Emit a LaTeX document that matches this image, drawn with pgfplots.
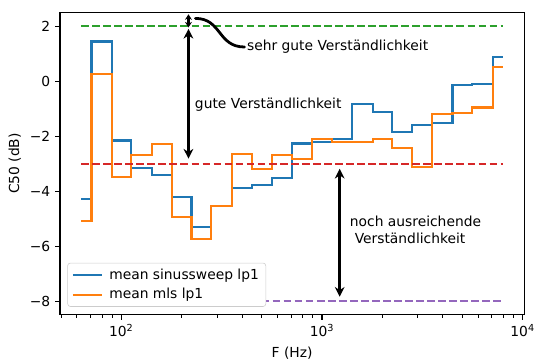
\documentclass[border=0pt]{standalone}
\usepackage{fontspec}
\setmainfont{DejaVu Sans}
\usepackage{pgfplots}
\usepackage{pgfplotstable}
\pgfplotsset{compat=1.18}
\usetikzlibrary{arrows.meta}

\definecolor{tabblue}{HTML}{1F77B4}
\definecolor{taborange}{HTML}{FF7F0E}
\definecolor{tabgreen}{HTML}{2CA02C}
\definecolor{tabred}{HTML}{D62728}
\definecolor{tabpurple}{HTML}{9467BD}

% third-octave band centres and mean C50 per band
\pgfplotstableread{
f      sweep   mls
63     -4.30   -5.08
80      1.44    0.27
100    -2.16   -3.50
125    -3.17   -2.70
160    -3.43   -2.28
200    -4.20   -4.93
250    -5.32   -5.75
315    -4.55   -4.55
400    -3.89   -2.66
500    -3.77   -3.21
630    -3.53   -2.70
800    -2.27   -2.82
1000   -2.22   -2.12
1250   -2.10   -2.20
1600   -0.82   -2.20
2000   -1.11   -2.09
2500   -1.85   -2.42
3150   -1.61   -3.11
4000   -1.51   -1.21
5000   -0.13   -1.17
6300   -0.10   -0.96
8000    0.87    0.50
}\bands

\begin{document}
\fontsize{10}{12}\selectfont
\begin{tikzpicture}
\begin{axis}[
  scale only axis,
  width=334.3bp, height=217.8bp,
  xmode=log,
  xmin=49.45, xmax=10190,
  ymin=-8.5, ymax=2.5,
  axis line style={line width=0.8bp},
  tick align=outside, tick pos=left,
  major tick length=3.5bp, minor tick length=2bp,
  every major tick/.style={line width=0.8bp, black},
  every minor tick/.style={line width=0.6bp, black},
  xtick={100,1000,10000},
  xticklabels={10\textsuperscript{2},10\textsuperscript{3},10\textsuperscript{4}},
  minor xtick={50,60,70,80,90,200,300,400,500,600,700,800,900,2000,3000,4000,5000,6000,7000,8000,9000},
  ytick={-8,-6,-4,-2,0,2},
  yticklabels={−8,−6,−4,−2,0,2},
  tick label style={font=\fontsize{10}{12}\selectfont},
  xlabel={F (Hz)},
  ylabel={C50 (dB)},
  every axis x label/.style={at={(axis description cs:0.5,0)}, anchor=center, yshift=-27.5bp},
  every axis y label/.style={at={(axis description cs:0,0.5)}, anchor=center, rotate=90, yshift=32.5bp},
  legend cell align=left,
  legend style={at={(0,0)}, anchor=south west, xshift=5.3bp, yshift=5.8bp,
    draw=black!20, rounded corners=2bp, fill=white,
    font=\fontsize{10}{12}\selectfont, row sep=1.2bp,
    inner xsep=3bp, inner ysep=2bp,
    /tikz/every odd column/.append style={column sep=2.5bp}},
  legend image code/.code={\draw[#1] (0bp,0bp) -- (21bp,0bp);},
]
\addplot[tabblue, line width=1.5bp, const plot mark mid] table[x=f, y=sweep] {\bands};
\addlegendentry{mean sinussweep lp1}
\addplot[taborange, line width=1.5bp, const plot mark mid] table[x=f, y=mls] {\bands};
\addlegendentry{mean mls lp1}

% limits of the intelligibility ranges
\addplot[tabgreen, line width=1.5bp, dash pattern=on 5.55bp off 2.4bp, forget plot] coordinates {(63,2) (8000,2)};
\addplot[tabred, line width=1.5bp, dash pattern=on 5.55bp off 2.4bp, forget plot] coordinates {(63,-3) (8000,-3)};
\addplot[tabpurple, line width=1.5bp, dash pattern=on 5.55bp off 2.4bp, forget plot] coordinates {(500,-8) (8000,-8)};

% range annotations
\draw[line width=2bp, {Stealth[length=4bp,width=5bp]}-{Stealth[length=4bp,width=5bp]}]
  (axis cs:216,2.43) -- (axis cs:216,1.95);
\draw[line width=2bp, {Stealth[length=7bp,width=7bp]}-{Stealth[length=7bp,width=7bp]}]
  (axis cs:216,1.9) -- (axis cs:216,-2.82);
\draw[line width=2bp, {Stealth[length=7bp,width=7bp]}-{Stealth[length=7bp,width=7bp]}]
  (axis cs:1225,-3.19) -- (axis cs:1225,-7.84);
\draw[line width=2bp, line cap=round]
  (axis cs:234,2.28) .. controls (axis cs:316,2.28) and (axis cs:302,1.24) .. (axis cs:411,1.24);
\node[anchor=west, inner sep=0pt] at (axis cs:422,1.24) {sehr gute Verständlichkeit};
\node[anchor=west, inner sep=0pt] at (axis cs:232,-0.86) {gute Verständlichkeit};
\node[anchor=west, inner sep=0pt, align=left] at (axis cs:1373,-5.40)
  {noch ausreichende\\\hspace*{3.5bp}Verständlichkeit};
\end{axis}
\pgfresetboundingbox
\path (-43.2bp,-31.8bp) rectangle (341.3bp,226.7bp);
\end{tikzpicture}
\end{document}
